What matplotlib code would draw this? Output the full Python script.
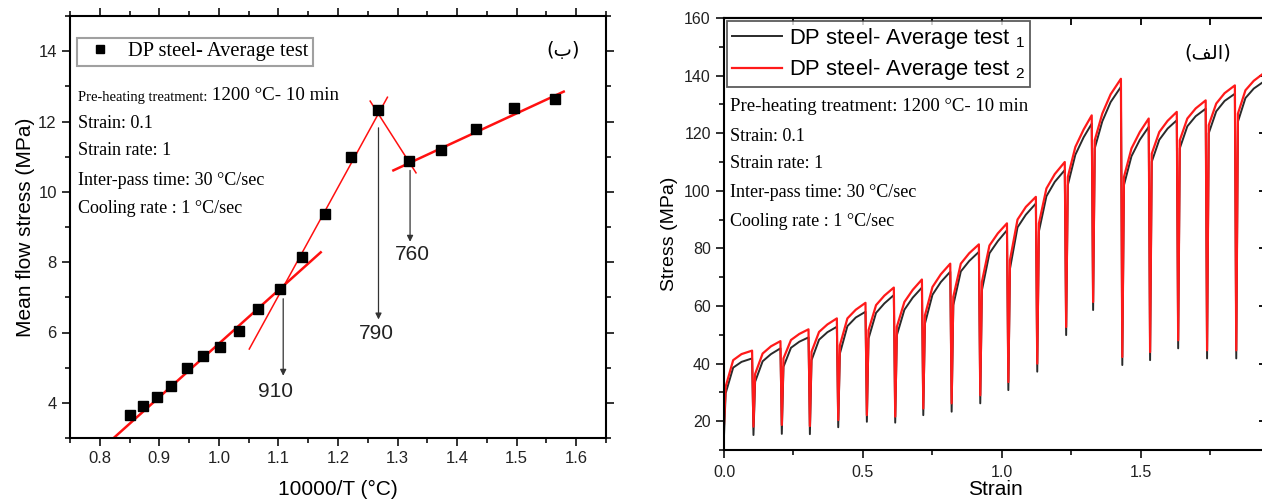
import matplotlib.pyplot as plt
from matplotlib.ticker import MultipleLocator

plt.rcParams['font.family'] = ['Liberation Sans', 'DejaVu Sans']
plt.rcParams['mathtext.fontset'] = 'custom'
plt.rcParams['mathtext.rm'] = 'Liberation Sans'
plt.rcParams['mathtext.it'] = 'Liberation Sans'
SERIF = 'Liberation Serif'

# ---- left panel: mean flow stress vs 10000/T ----
inv_temp = [0.850, 0.873, 0.896, 0.920, 0.946, 0.974, 1.002, 1.033, 1.065, 1.102,
            1.139, 1.178, 1.221, 1.268, 1.319, 1.373, 1.431, 1.495, 1.565]
mean_stress = [3.64, 3.92, 4.16, 4.49, 5.00, 5.34, 5.59, 6.03, 6.68, 7.23,
               8.15, 9.37, 10.99, 12.32, 10.87, 11.20, 11.80, 12.37, 12.64]

# fitted red lines (end points)
fit_x = [(0.824, 1.171), (1.051, 1.283), (1.254, 1.331), (1.293, 1.579)]
fit_y = [(3.01, 8.28), (5.53, 12.69), (12.58, 10.54), (10.61, 12.85)]
fit_lw = [1.8, 1.1, 1.1, 1.8]

# transition temperatures: label, x, arrow start y, arrow end y, text x, text y
transitions = [("910", 1.108, 6.96, 4.77, 1.095, 4.32),
               ("790", 1.268, 11.82, 6.37, 1.264, 5.97),
               ("760", 1.321, 10.61, 8.58, 1.325, 8.23)]

# ---- right panel: multi-pass stress-strain curves ----
drop_strain = [0.105, 0.207, 0.308, 0.410, 0.513, 0.615, 0.716, 0.818, 0.921, 1.022,
               1.126, 1.230, 1.327, 1.432, 1.532, 1.633, 1.737, 1.842, 1.944]

t1_start = 15.0
t1_knee = [29.7, 33.7, 38.9, 41.2, 43.5, 48.7, 49.9, 53.9, 60.3, 65.5,
           73.0, 85.9, 102.0, 114.8, 102.0, 110.1, 114.8, 120.0, 124.0]
t1_mid = [38.6, 40.8, 45.5, 48.3, 53.0, 57.6, 58.7, 63.9, 72.0, 78.3,
          87.3, 98.1, 112.5, 124.1, 112.0, 117.7, 122.4, 127.6, 132.2]
t1_upper = [40.6, 43.3, 47.6, 50.9, 56.0, 60.9, 62.9, 68.3, 75.6, 82.5,
            91.7, 103.1, 118.6, 130.8, 117.7, 121.6, 125.9, 131.2, 135.5]
t1_peak = [41.8, 45.3, 49.1, 52.8, 58.0, 63.8, 66.4, 71.9, 78.8, 86.3,
           95.6, 107.2, 123.3, 136.1, 122.2, 124.5, 128.5, 133.7, 137.8]
t1_trough = [15.2, 15.6, 15.5, 17.9, 19.8, 19.5, 22.1, 23.3, 26.2, 30.8,
             37.2, 49.9, 58.6, 39.5, 41.2, 45.3, 41.8, 41.8]

t2_start = 19.0
t2_knee = [32.0, 36.4, 41.8, 44.1, 46.4, 51.6, 52.8, 56.8, 63.2, 68.4,
           76.0, 88.7, 104.8, 117.6, 104.8, 112.9, 117.6, 122.8, 126.8]
t2_mid = [41.2, 43.5, 48.2, 51.0, 55.7, 60.3, 61.4, 66.6, 74.7, 81.0,
          90.0, 100.8, 115.2, 126.8, 114.7, 120.4, 125.1, 130.3, 134.9]
t2_upper = [43.3, 46.0, 50.3, 53.6, 58.7, 63.6, 65.6, 71.0, 78.3, 85.2,
            94.4, 105.8, 121.3, 133.5, 120.4, 124.3, 128.6, 133.9, 138.2]
t2_peak = [44.5, 47.8, 51.9, 55.7, 61.1, 66.4, 69.2, 74.7, 81.4, 88.7,
           97.9, 110.0, 126.2, 138.9, 125.1, 127.4, 131.4, 136.6, 140.7]
t2_trough = [18.1, 18.7, 18.3, 20.4, 22.1, 21.6, 24.4, 26.2, 29.0, 33.6,
             40.0, 52.7, 61.4, 42.3, 44.0, 48.1, 44.6, 44.6]

# strain offsets of the knots inside one pass
knee_off, mid_off, upper_off, peak_lead, trough_lag = 0.006, 0.033, 0.063, 0.004, 0.001

notes = ["Strain: 0.1", "Strain rate: 1", "Inter-pass time: 30 \u00b0C/sec",
         "Cooling rate : 1 \u00b0C/sec"]


def flow_curve(start, knee, mid, upper, peak, trough):
    xs, ys = [0.0], [start]
    for i, end in enumerate(drop_strain):
        s = 0.0 if i == 0 else drop_strain[i - 1] + trough_lag
        if i > 0:
            xs.append(s)
            ys.append(trough[i - 1])
        xs += [s + knee_off, s + mid_off, s + upper_off, end - peak_lead]
        ys += [knee[i], mid[i], upper[i], peak[i]]
    return xs, ys


W, H = 1262, 504
fig = plt.figure(figsize=(W / 100, H / 100), dpi=100)
ax1 = fig.add_axes([70 / W, 66 / H, 536 / W, 422 / H])
ax2 = fig.add_axes([724 / W, 54 / H, 542 / W, 432 / H])

# left panel
for xs, ys, lw in zip(fit_x, fit_y, fit_lw):
    ax1.plot(xs, ys, color='#ff1010', lw=lw, zorder=2)
ax1.plot(inv_temp, mean_stress, 's', color='black', ms=7.5, zorder=3,
         label='DP steel- Average test')
for lab, x, y0, y1, tx, ty in transitions:
    ax1.annotate('', xy=(x, y1), xytext=(x, y0),
                 arrowprops=dict(arrowstyle='-|>', color='#333333', lw=0.9,
                                 mutation_scale=9, shrinkA=0, shrinkB=0))
    ax1.text(tx, ty, lab, ha='center', va='center', fontsize=15, color='#222222')

ax1.set_xlim(0.75, 1.65)
ax1.set_ylim(3, 15)
ax1.xaxis.set_major_locator(MultipleLocator(0.1))
ax1.xaxis.set_minor_locator(MultipleLocator(0.05))
ax1.yaxis.set_major_locator(MultipleLocator(2))
ax1.yaxis.set_minor_locator(MultipleLocator(1))
ax1.xaxis.set_major_formatter(lambda v, p: f"{v:.1f}")
ax1.tick_params(which='both', direction='out', top=True, right=True, width=1.3,
                labelsize=12, colors='#222222')
ax1.tick_params(which='major', length=6)
ax1.tick_params(which='minor', length=3.5)
for sp in ax1.spines.values():
    sp.set_linewidth(1.5)
ax1.set_xlabel('10000/T (\u00b0C)', fontsize=15, labelpad=10)
ax1.set_ylabel('Mean flow stress (MPa)', fontsize=15, labelpad=2)

leg1 = ax1.legend(loc='upper left', bbox_to_anchor=(0.013, 0.948), borderaxespad=0,
                  fancybox=False, edgecolor='#888888', numpoints=1, markerscale=0.75,
                  prop={'family': SERIF, 'size': 14.8}, handlelength=1.8,
                  handletextpad=0.5, borderpad=0.2)
leg1.get_frame().set_linewidth(1.5)

t = ax1.text(0.015, 0.808, 'Pre-heating treatment:', transform=ax1.transAxes,
             family=SERIF, fontsize=10.5, va='center')
ax1.annotate(' 1200 \u00b0C- 10 min', xy=(1, 0), xycoords=t, va='bottom',
             family=SERIF, fontsize=13.6)
for k, line in enumerate(notes):
    ax1.text(0.015, [0.746, 0.682, 0.611, 0.543][k], line, transform=ax1.transAxes,
             family=SERIF, fontsize=13, va='center')
ax1.text(0.92, 0.919, '(\u0628)', transform=ax1.transAxes, family=['DejaVu Sans'],
         fontsize=14, ha='center', va='center')

# right panel
x1, y1 = flow_curve(t1_start, t1_knee, t1_mid, t1_upper, t1_peak, t1_trough)
x2, y2 = flow_curve(t2_start, t2_knee, t2_mid, t2_upper, t2_peak, t2_trough)
ax2.plot(x1, y1, color='#2a2a2a', lw=1.4, label='DP steel- Average test $_{1}$')
ax2.plot(x2, y2, color='#ff1a1a', lw=1.6, label='DP steel- Average test $_{2}$')

ax2.set_xlim(0, 1.95)
ax2.set_ylim(10, 160)
ax2.xaxis.set_major_locator(MultipleLocator(0.5))
ax2.xaxis.set_minor_locator(MultipleLocator(0.25))
ax2.yaxis.set_major_locator(MultipleLocator(20))
ax2.yaxis.set_minor_locator(MultipleLocator(10))
ax2.tick_params(which='both', direction='out', width=1.3, labelsize=11.5,
                colors='#222222')
ax2.tick_params(axis='x', pad=5)
ax2.tick_params(which='major', length=6)
ax2.tick_params(which='minor', length=3.5)
for sp in ax2.spines.values():
    sp.set_linewidth(1.5)

top = ax2.secondary_xaxis('top')
top.xaxis.set_major_locator(MultipleLocator(0.25))
top.tick_params(direction='in', length=5, width=1.3, labeltop=False)
top.spines['top'].set_linewidth(1.5)
right = ax2.secondary_yaxis('right')
right.yaxis.set_major_locator(MultipleLocator(20))
right.yaxis.set_minor_locator(MultipleLocator(10))
right.tick_params(which='both', direction='in', width=1.3, labelright=False)
right.tick_params(which='major', length=5)
right.tick_params(which='minor', length=3)

ax2.set_xlabel('Strain', fontsize=15, labelpad=0)
ax2.set_ylabel('Stress (MPa)', fontsize=14, labelpad=4)

leg2 = ax2.legend(loc='upper left', bbox_to_anchor=(0.0055, 0.993), borderaxespad=0,
                  fancybox=False, edgecolor='#333333', fontsize=15.8, handlelength=2.3,
                  handletextpad=0.3, borderpad=0.22, labelspacing=0.3)
leg2.get_frame().set_linewidth(1.3)

ax2.text(0.011, 0.794, 'Pre-heating treatment: 1200 \u00b0C- 10 min', transform=ax2.transAxes,
         family=SERIF, fontsize=13.5, va='center')
for k, line in enumerate(notes):
    ax2.text(0.011, [0.725, 0.664, 0.595, 0.528][k], line, transform=ax2.transAxes,
             family=SERIF, fontsize=13, va='center')
ax2.text(0.893, 0.919, '(\ufed2\ufedf\ufe8d)', transform=ax2.transAxes,
         family=['DejaVu Sans'], fontsize=14, ha='center', va='center')

fig.savefig('out.png', dpi=100)
